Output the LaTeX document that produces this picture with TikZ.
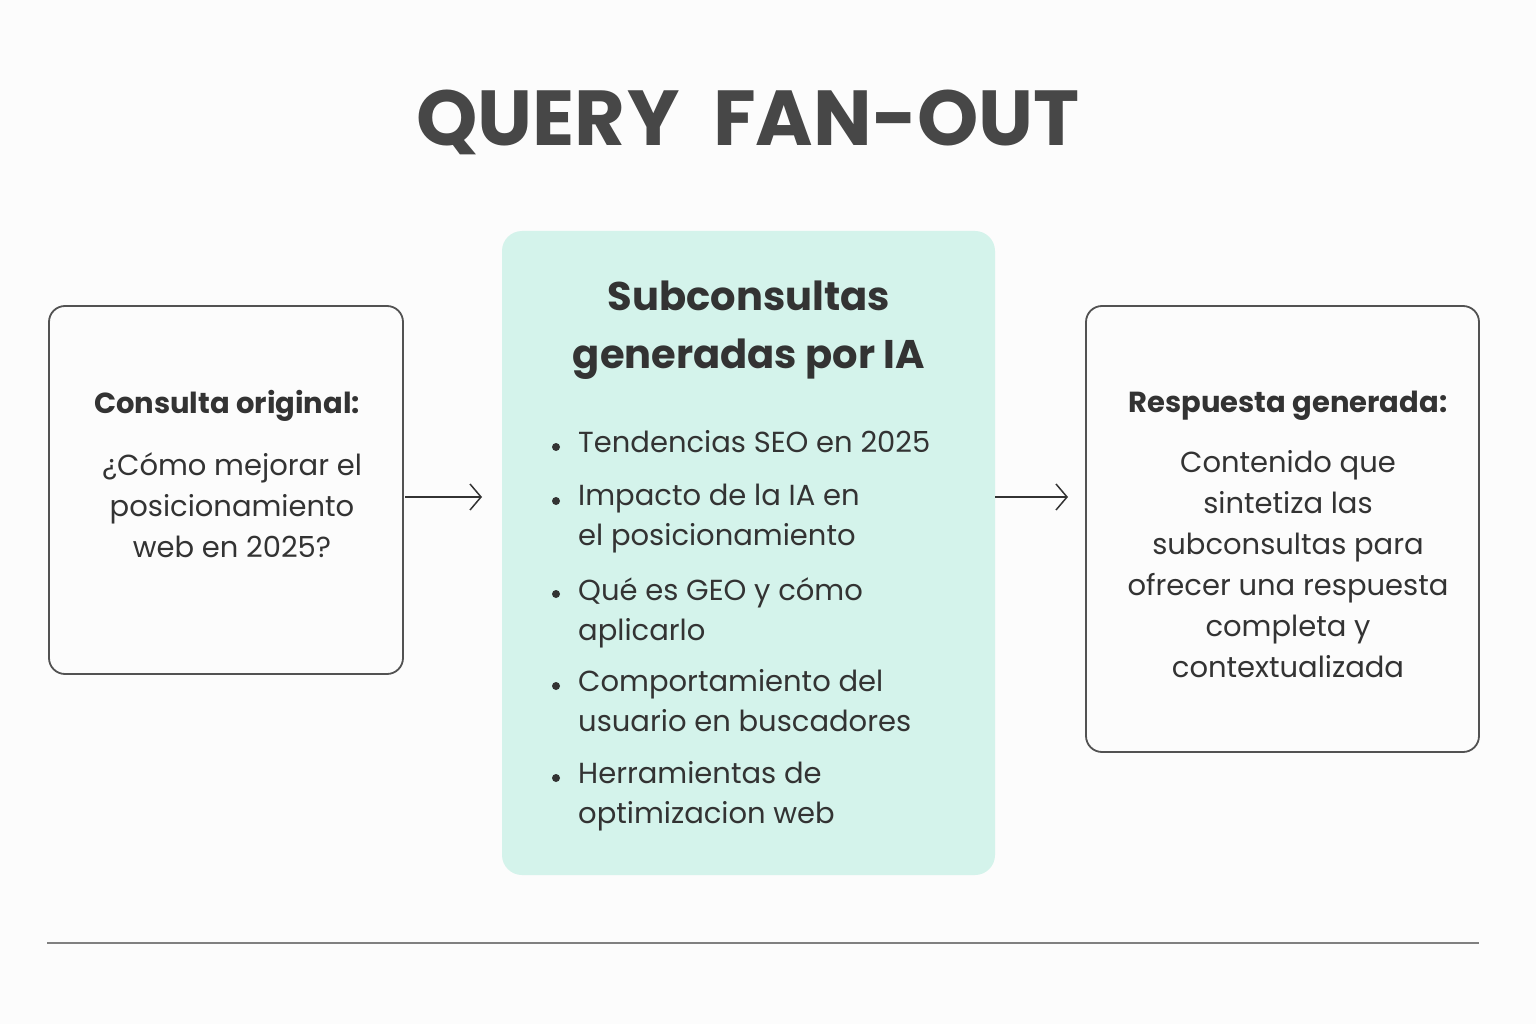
\documentclass[tikz,border=0pt]{standalone}
\usepackage{fontspec}
\setmainfont{Poppins}
\usetikzlibrary{arrows.meta,calc}
\definecolor{ink}{HTML}{333333}
\definecolor{mint}{HTML}{D4F3EB}
\tikzset{x=1pt,y=-1pt,
 box/.style={draw=ink!85,line width=1.8pt,rounded corners=16pt},
 txt/.style={text=ink,align=center,font=\fontsize{29}{41}\selectfont},
 head/.style={text=ink,font=\fontsize{29}{40}\selectfont\bfseries},
 arr/.style={draw=ink,line width=1.5pt,-{Straight Barb[length=11pt,width=26pt]}},
 itm/.style={text=ink,anchor=north west,align=left,font=\fontsize{29}{40}\selectfont},
 dot/.style={circle,fill=ink,inner sep=0pt,minimum size=8pt}}
\begin{document}
\begin{tikzpicture}
\useasboundingbox[fill=white!98!gray] (0,0) rectangle (1536,1024);
\node[text=ink!90,font=\fontsize{78}{80}\selectfont\bfseries] (title) at (748,122) {QUER\kern2pt Y\ \ FAN-OUT};
\draw[box] (49,306) rectangle (403,674);
\coordinate (lr) at (405,497);
\fill[mint,rounded corners=20pt] (502,231) rectangle (995,875);
\coordinate (ml) at (482,497); \coordinate (mr) at (995,497);
\draw[box] (1086,306) rectangle (1479,752);
\coordinate (rl) at (1068,497);
\node[head] (h1) at (227,406) {Consulta original:};
\node[txt] (t1) at (232,505) {¿Cómo mejorar el\\posicionamiento\\web en 2025?};
\node[text=ink,align=center,font=\fontsize{40}{58}\selectfont\bfseries] (h2) at (749,330) {Subconsultas\\generadas por IA};
\foreach \y/\t [count=\i] in {428/Tendencias SEO en 2025,482/Impacto de la IA en\\el posicionamiento,575/Qué es GEO y cómo\\aplicarlo,667/Comportamiento del\\usuario en buscadores,759/Herramientas de\\optimizacion web}{
 \node[dot] (d\i) at (556,\y+19) {};
 \node[itm,inner sep=0pt] (i\i) at (578,\y+2) {\t};}
\node[head] (h3) at (1288,406) {Respuesta generada:};
\node[txt] (t3) at (1288,564) {Contenido que\\sintetiza\ las\\subconsultas para\\ofrecer una respuesta\\completa y\\contextualizada};
\draw[arr] (lr) -- (ml);
\draw[arr] (mr) -- (rl);
\draw[draw=gray,line width=2pt] (47,943) -- (1479,943);
\end{tikzpicture}
\end{document}
